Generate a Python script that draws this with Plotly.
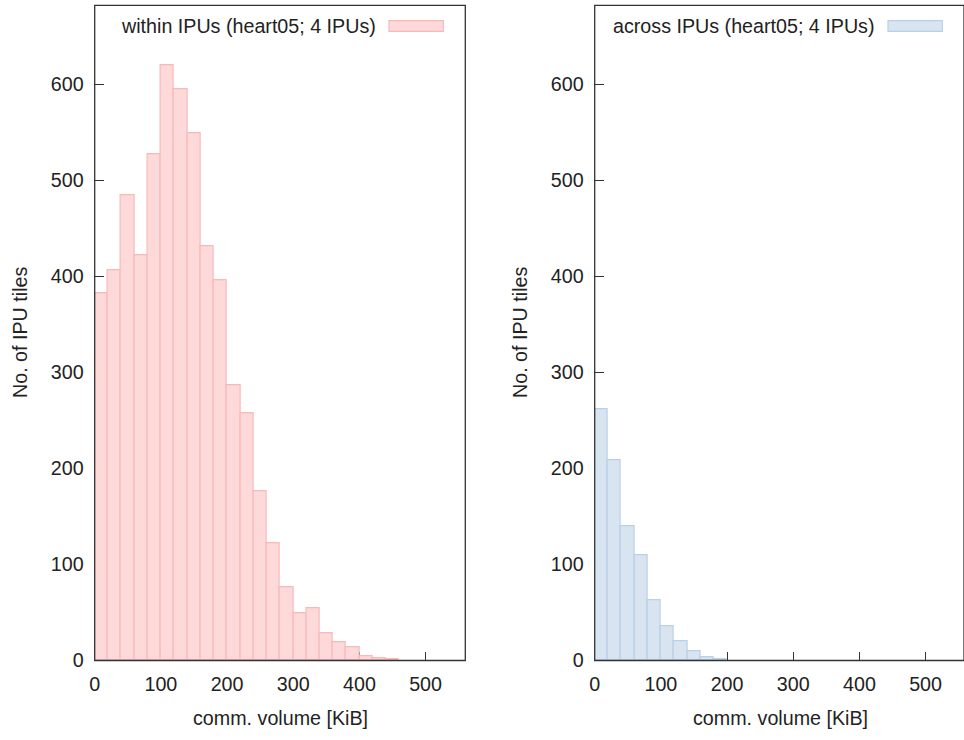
import plotly.graph_objects as go

# ---------------- data ----------------
bin_width = 20  # KiB
within_bin_start = [0, 20, 40, 60, 80, 100, 120, 140, 160, 180, 200, 220,
                    240, 260, 280, 300, 320, 340, 360, 380, 400, 420, 440]
within_counts = [382, 406, 484, 422, 527, 619, 595, 549, 431, 396, 286, 257,
                 176, 122, 76, 49, 54, 28, 19, 14, 4, 2, 1]

across_bin_start = [0, 20, 40, 60, 80, 100, 120, 140, 160, 180]
across_counts = [261, 208, 140, 109, 63, 36, 20, 10, 3, 1]

within_label = "within IPUs (heart05; 4 IPUs)"
across_label = "across IPUs (heart05; 4 IPUs)"
x_title = "comm. volume [KiB]"
y_title = "No. of IPU tiles"
x_ticks = [0, 100, 200, 300, 400, 500]
y_ticks = [0, 100, 200, 300, 400, 500, 600]

# ---------------- style ----------------
W, H = 964, 740
red_fill, red_line = "rgba(253,217,217,1)", "rgb(248,185,185)"
blue_fill, blue_line = "rgba(216,228,240,1)", "rgb(184,208,232)"
txt = "#222222"
frame = "#333333"
FONT = "Liberation Sans, Arial, sans-serif"
FS = 19.7

# pixel geometry of the two panels
L1, R1 = 94.7, 465.3
L2, R2 = 594.7, 964.0
TOP, BOT = 5.3, 660.5
px_per_unit = (R1 - L1) / 560.0

def px(xp):
    return xp / W

def py(yp):
    return 1 - yp / H

fig = go.Figure()
fig.add_trace(go.Bar(x=within_bin_start, y=within_counts, width=bin_width, offset=0,
                     marker=dict(color=red_fill, line=dict(color=red_line, width=1.2)),
                     name=within_label, showlegend=False, xaxis="x", yaxis="y"))
fig.add_trace(go.Bar(x=across_bin_start, y=across_counts, width=bin_width, offset=0,
                     marker=dict(color=blue_fill, line=dict(color=blue_line, width=1.2)),
                     name=across_label, showlegend=False, xaxis="x2", yaxis="y2"))

axis_common = dict(ticks="inside", ticklen=9, tickwidth=1, tickcolor=frame,
                   showgrid=False, zeroline=False, showline=False,
                   tickfont=dict(family=FONT, size=FS, color=txt),
                   layer="below traces", automargin=False, fixedrange=True)

ymax = (BOT - TOP) / ((BOT - 84.0) / 600.0)

fig.update_layout(
    width=W, height=H,
    margin=dict(l=0, r=0, t=0, b=0),
    paper_bgcolor="white", plot_bgcolor="white",
    bargap=0, showlegend=False,
    font=dict(family=FONT, size=FS, color=txt),
    xaxis=dict(domain=[px(L1), px(R1)], range=[0, 560], tickvals=x_ticks,
               ticklabelstandoff=10, anchor="y", **axis_common),
    yaxis=dict(domain=[py(BOT), py(TOP)], range=[0, ymax], tickvals=y_ticks,
               ticklabelstandoff=10, anchor="x", **axis_common),
    xaxis2=dict(domain=[px(L2), px(R2)], range=[0, (R2 - L2) / px_per_unit],
                tickvals=x_ticks, ticklabelstandoff=10, anchor="y2", **axis_common),
    yaxis2=dict(domain=[py(BOT), py(TOP)], range=[0, ymax], tickvals=y_ticks,
                ticklabelstandoff=10, anchor="x2", **axis_common),
)

shapes = []
for xr, yr in (("x", "y"), ("x2", "y2")):
    shapes.append(dict(type="rect", xref=f"{xr} domain", yref=f"{yr} domain",
                       x0=0, x1=1, y0=0, y1=1, line=dict(color=frame, width=1.3),
                       fillcolor="rgba(0,0,0,0)", layer="above"))
# legend sample boxes
for (x0, x1), fc, lc in (((389, 443.3), red_fill, red_line), ((888, 942.3), blue_fill, blue_line)):
    shapes.append(dict(type="rect", xref="paper", yref="paper",
                       x0=px(x0), x1=px(x1), y0=py(31.3), y1=py(20.7),
                       fillcolor=fc, line=dict(color=lc, width=1.2), layer="above"))
fig.update_layout(shapes=shapes)

annotations = [
    dict(text=within_label, x=px(377.5), y=py(26), xanchor="right", yanchor="middle"),
    dict(text=across_label, x=px(877), y=py(26), xanchor="right", yanchor="middle"),
    dict(text=x_title, x=px(280.5), y=py(718), xanchor="center", yanchor="middle"),
    dict(text=x_title, x=px(780.5), y=py(718), xanchor="center", yanchor="middle"),
    dict(text=y_title, x=px(20), y=py(333), xanchor="center", yanchor="middle", textangle=-90),
    dict(text=y_title, x=px(520), y=py(333), xanchor="center", yanchor="middle", textangle=-90),
]
for a in annotations:
    a.update(xref="paper", yref="paper", showarrow=False,
             font=dict(family=FONT, size=FS, color=txt))
fig.update_layout(annotations=annotations)

fig.write_html("out.html")
